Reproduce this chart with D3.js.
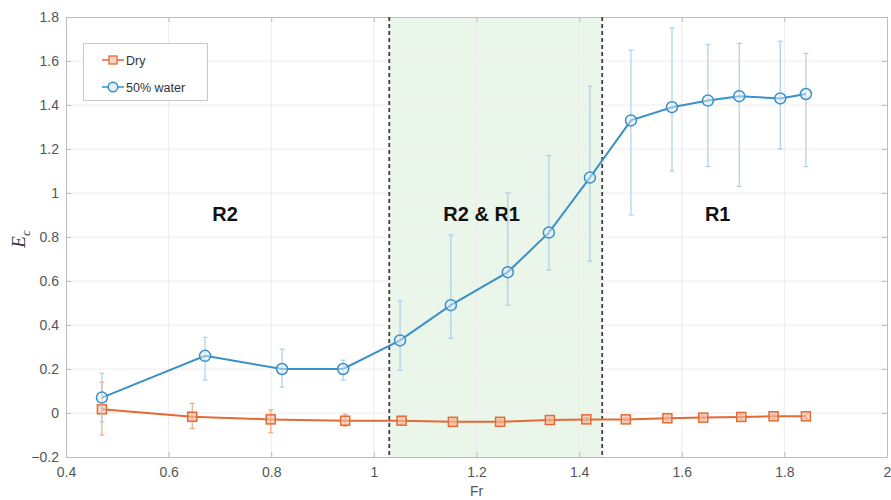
<!DOCTYPE html>
<html>
<head>
<meta charset="utf-8">
<script src="https://cdn.jsdelivr.net/npm/d3@7"></script>
<style>
  body { margin: 0; background: #fff; }
  svg { display: block; }
  .tick text { font-family: Arial, "Liberation Sans", sans-serif; }
</style>
</head>
<body>
<svg id="chart" width="891" height="500"></svg>
<script>
// Froude number at each measurement
const frDry   = [0.47, 0.646, 0.799, 0.944, 1.054, 1.154, 1.246, 1.343, 1.414, 1.491, 1.572, 1.642, 1.716, 1.779, 1.842];
const ecDry   = [0.017, -0.017, -0.029, -0.035, -0.035, -0.04, -0.04, -0.032, -0.029, -0.029, -0.024, -0.021, -0.018, -0.015, -0.015];
const errDryHi = [0.14, 0.044, 0.014, -0.005, -0.02, -0.028, -0.03, -0.022, -0.02, -0.02, -0.014, -0.011, -0.008, -0.006, -0.006];
const errDryLo = [-0.10, -0.07, -0.09, -0.06, -0.05, -0.05, -0.05, -0.042, -0.038, -0.038, -0.034, -0.031, -0.028, -0.025, -0.025];

const frWet   = [0.47, 0.671, 0.821, 0.94, 1.051, 1.15, 1.261, 1.341, 1.421, 1.501, 1.581, 1.651, 1.712, 1.792, 1.842];
const ecWet   = [0.07, 0.26, 0.20, 0.20, 0.33, 0.49, 0.64, 0.82, 1.07, 1.33, 1.39, 1.42, 1.44, 1.43, 1.45];
const errWetHi = [0.18, 0.344, 0.29, 0.24, 0.51, 0.81, 1.00, 1.17, 1.486, 1.65, 1.75, 1.675, 1.68, 1.69, 1.635];
const errWetLo = [-0.04, 0.15, 0.117, 0.15, 0.195, 0.34, 0.49, 0.65, 0.69, 0.90, 1.10, 1.12, 1.03, 1.20, 1.12];

const xTicks = [0.4, 0.6, 0.8, 1, 1.2, 1.4, 1.6, 1.8, 2];
const yTicks = [-0.2, 0, 0.2, 0.4, 0.6, 0.8, 1, 1.2, 1.4, 1.6, 1.8];

// Transition band between regimes
const bandStart = 1.03, bandEnd = 1.445;
const regimeLabels = ["R2", "R2 & R1", "R1"];
const regimeX = [0.71, 1.21, 1.67];
const regimeY = 0.875;

const seriesNames = ["Dry", "50% water"];

const colDry = "#e26a34", colDryErr = "#f0a789";
const colWet = "#3a90c8", colWetErr = "#abcfe7";

const svg = d3.select("#chart");
const m = { left: 66, top: 17, right: 4, bottom: 43 };
const W = 891, H = 500;

const x = d3.scaleLinear().domain([0.4, 2]).range([m.left, W - m.right]);
const y = d3.scaleLinear().domain([-0.2, 1.8]).range([H - m.bottom, m.top]);

// shaded transition band
svg.append("rect")
  .attr("x", x(bandStart)).attr("y", y(1.8))
  .attr("width", x(bandEnd) - x(bandStart))
  .attr("height", y(-0.2) - y(1.8))
  .attr("fill", "#eaf6e9");

// grid
const grid = svg.append("g");
grid.selectAll(".gx").data(xTicks.slice(1, -1)).join("line")
  .attr("x1", d => x(d)).attr("x2", d => x(d))
  .attr("y1", y(-0.2)).attr("y2", y(1.8))
  .attr("stroke", "#ececec").attr("stroke-width", 1);
grid.selectAll(".gy").data(yTicks.slice(1, -1)).join("line")
  .attr("y1", d => y(d)).attr("y2", d => y(d))
  .attr("x1", x(0.4)).attr("x2", x(2))
  .attr("stroke", "#ececec").attr("stroke-width", 1);

// axes
const fmt = d => d3.format("")(+d.toFixed(1));
const axB = svg.append("g").attr("transform", `translate(0,${y(-0.2)})`)
  .call(d3.axisBottom(x).tickValues(xTicks).tickFormat(fmt).tickSizeInner(-5).tickSizeOuter(0).tickPadding(10));
const axL = svg.append("g").attr("transform", `translate(${x(0.4)},0)`)
  .call(d3.axisLeft(y).tickValues(yTicks).tickFormat(fmt).tickSizeInner(-5).tickSizeOuter(0).tickPadding(7));
const axT = svg.append("g").attr("transform", `translate(0,${y(1.8)})`)
  .call(d3.axisTop(x).tickValues(xTicks).tickFormat("").tickSizeInner(-5).tickSizeOuter(0));
const axR = svg.append("g").attr("transform", `translate(${x(2)},0)`)
  .call(d3.axisRight(y).tickValues(yTicks).tickFormat("").tickSizeInner(-5).tickSizeOuter(0));
[axB, axL, axT, axR].forEach(a => {
  a.select(".domain").attr("stroke", "#bdbdbd").attr("stroke-width", 1);
  a.selectAll(".tick line").attr("stroke", "#bdbdbd");
  a.selectAll(".tick text").attr("fill", "#555").attr("font-size", 14);
});

// axis titles
svg.append("text").attr("x", x(1.2)).attr("y", 496)
  .attr("text-anchor", "middle").attr("fill", "#555")
  .attr("font-family", "Arial, 'Liberation Sans', sans-serif").attr("font-size", 14)
  .text("Fr");
const yl = svg.append("text").attr("transform", `translate(25,${y(0.8) + 2}) rotate(-90)`)
  .attr("text-anchor", "middle").attr("fill", "#333")
  .attr("font-family", "'Liberation Serif', 'DejaVu Serif', serif").attr("font-style", "italic").attr("font-size", 19);
yl.append("tspan").text("E");
yl.append("tspan").attr("font-size", 13).attr("dy", 5).text("c");

// regime boundaries
svg.selectAll(".bnd").data([bandStart, bandEnd]).join("line")
  .attr("x1", d => x(d)).attr("x2", d => x(d))
  .attr("y1", y(1.8)).attr("y2", y(-0.2))
  .attr("stroke", "#404040").attr("stroke-width", 1.8).attr("stroke-dasharray", "4,3");

// regime labels
svg.selectAll(".reg").data(regimeLabels).join("text")
  .attr("x", (d, i) => x(regimeX[i])).attr("y", y(regimeY))
  .attr("text-anchor", "middle").attr("fill", "#111")
  .attr("font-family", "Arial, 'Liberation Sans', sans-serif").attr("font-weight", "bold").attr("font-size", 20)
  .text(d => d);

function drawSeries(fr, ec, hi, lo, col, errCol, marker) {
  const g = svg.append("g");
  const cap = 2.5;
  fr.forEach((f, i) => {
    g.append("line").attr("x1", x(f)).attr("x2", x(f)).attr("y1", y(hi[i])).attr("y2", y(lo[i]))
      .attr("stroke", errCol).attr("stroke-width", 1.2);
    [hi[i], lo[i]].forEach(v => g.append("line")
      .attr("x1", x(f) - cap).attr("x2", x(f) + cap).attr("y1", y(v)).attr("y2", y(v))
      .attr("stroke", errCol).attr("stroke-width", 1.2));
  });
  const pts = fr.map((f, i) => [f, ec[i]]);
  g.append("path").datum(pts)
    .attr("d", d3.line().x(d => x(d[0])).y(d => y(d[1])))
    .attr("fill", "none").attr("stroke", col).attr("stroke-width", 2);
  if (marker === "square") {
    g.selectAll("rect").data(pts).join("rect")
      .attr("x", d => x(d[0]) - 4.5).attr("y", d => y(d[1]) - 4.5)
      .attr("width", 9).attr("height", 9)
      .attr("fill", "#f5c2a8").attr("fill-opacity", 0.6).attr("stroke", col).attr("stroke-width", 1.5);
  } else {
    g.selectAll("circle").data(pts).join("circle")
      .attr("cx", d => x(d[0])).attr("cy", d => y(d[1])).attr("r", 5.5)
      .attr("fill", "#e3eff8").attr("fill-opacity", 0.5).attr("stroke", col).attr("stroke-width", 1.5);
  }
}
drawSeries(frDry, ecDry, errDryHi, errDryLo, colDry, colDryErr, "square");
drawSeries(frWet, ecWet, errWetHi, errWetLo, colWet, colWetErr, "circle");

// legend
const lg = svg.append("g");
lg.append("rect").attr("x", 83.5).attr("y", 43.5).attr("width", 124).attr("height", 57)
  .attr("fill", "#fff").attr("stroke", "#c8c8c8");
const legendCols = [colDry, colWet];
seriesNames.forEach((name, i) => {
  const ly = 60 + i * 27;
  lg.append("line").attr("x1", 102).attr("x2", 124).attr("y1", ly).attr("y2", ly)
    .attr("stroke", legendCols[i]).attr("stroke-width", 1.5);
  if (i === 0) {
    lg.append("rect").attr("x", 109).attr("y", ly - 4).attr("width", 8).attr("height", 8)
      .attr("fill", "#f8d3c0").attr("stroke", legendCols[i]).attr("stroke-width", 1.3);
  } else {
    lg.append("circle").attr("cx", 113).attr("cy", ly).attr("r", 4.8)
      .attr("fill", "#e3eff8").attr("stroke", legendCols[i]).attr("stroke-width", 1.5);
  }
  lg.append("text").attr("x", 126).attr("y", ly + 4.5)
    .attr("fill", "#333").attr("font-family", "Arial, 'Liberation Sans', sans-serif").attr("font-size", 12.5)
    .text(name);
});
</script>
</body>
</html>
